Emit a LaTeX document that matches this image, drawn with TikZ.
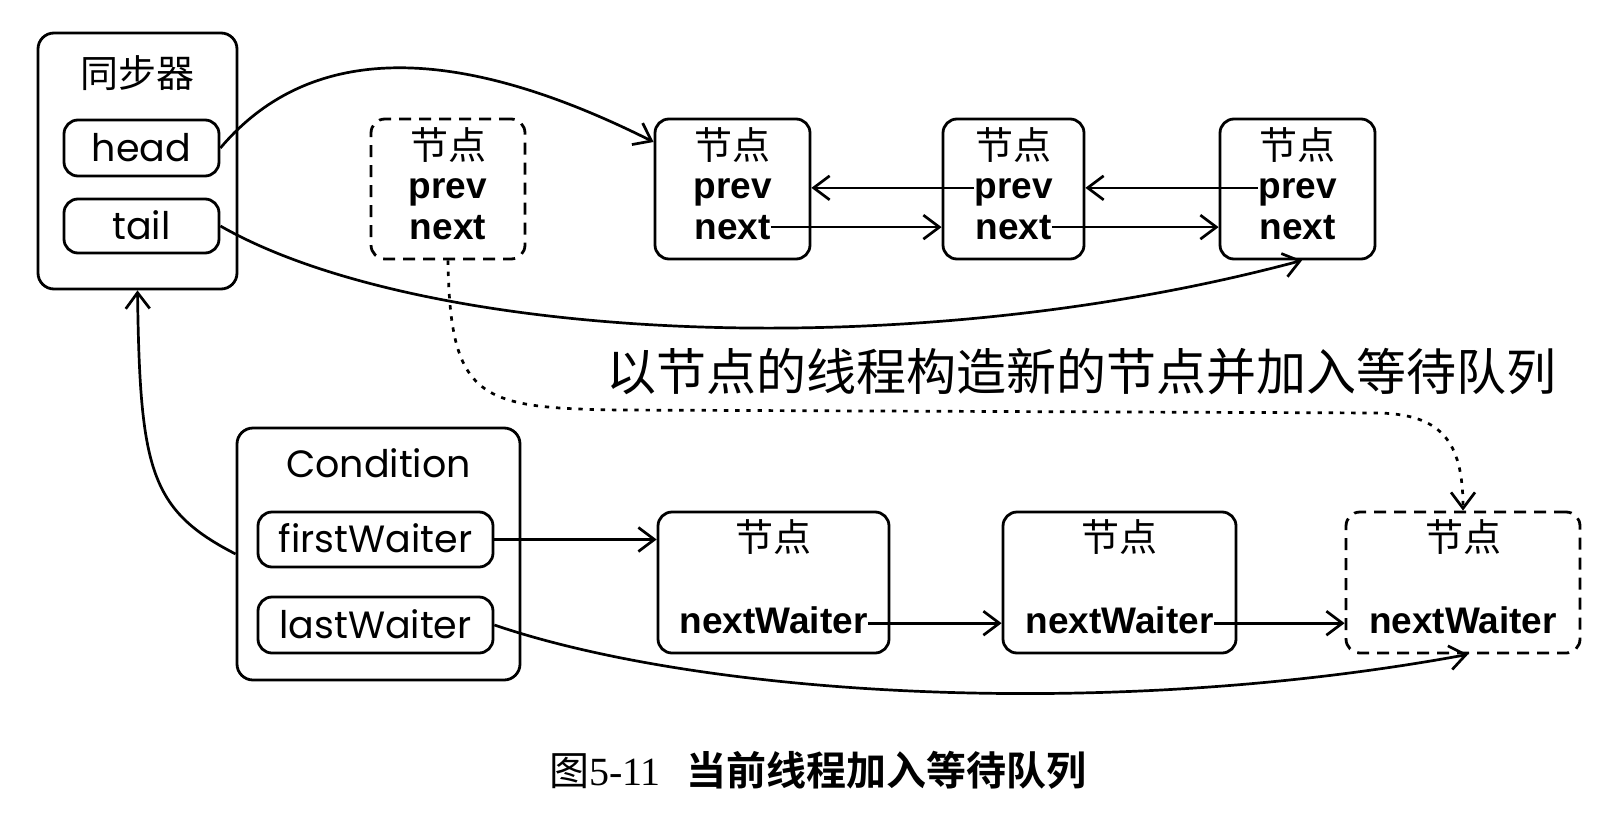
\documentclass[tikz,border=0pt]{standalone}
\usepackage{fontspec}
\setmainfont{Liberation Sans}
\newfontfamily\cjk[BoldFont={Noto Sans CJK SC Bold}]{Noto Sans CJK SC}
\newfontfamily\geo{Poppins}
\newfontfamily\capserif{Liberation Serif}
\usetikzlibrary{arrows.meta}
\begin{document}
\begin{tikzpicture}[x=0.5pt,y=-0.5pt,
  box/.style={draw, line width=1.4pt, rounded corners=7pt, inner sep=0pt},
  dbox/.style={box, dash pattern=on 6pt off 4pt},
  lbl/.style={inner sep=0pt, anchor=base, font=\geo\fontsize{19}{23}\selectfont},
  cn/.style={inner sep=0pt, anchor=base, font=\cjk\fontsize{19}{23}\selectfont},
  bfl/.style={inner sep=0pt, anchor=base, font=\bfseries\fontsize{18.5}{22}\selectfont},
  arr/.style={line width=1.35pt, -{Straight Barb[length=8pt,width=12pt,line width=1.35pt]}},
  dotarr/.style={arr, dash pattern=on 2.2pt off 3.4pt}]
\useasboundingbox (0,0) rectangle (1620,824);

% synchronizer
\node[box, minimum width=99.5pt, minimum height=128pt, rounded corners=8pt] (sync) at (137.5,161) {};
\node[cn] (synct) at (137.5,88) {同步器};
\node[box, minimum width=77.5pt, minimum height=28pt] (head) at (141.5,148) {};
\node[lbl] (headt) at (141.5,161) {head};
\node[box, minimum width=77.5pt, minimum height=27pt] (tail) at (141.5,226) {};
\node[lbl] (tailt) at (141.5,239) {tail};

% new (dashed) node
\node[dbox, minimum width=77pt, minimum height=70pt] (dn) at (448,189) {};
\node[cn] (dnt) at (448,159) {节点};
\node[bfl] (dnp) at (448,198) {prev};
\node[bfl] (dnn) at (448,239) {next};

% sync queue nodes
\node[box, minimum width=77.5pt, minimum height=70pt] (n1) at (732.5,189) {};
\node[cn] (n1t) at (732.5,159) {节点};
\node[bfl] (n1p) at (732.5,198) {prev};
\node[bfl] (n1n) at (732.5,239) {next};
\node[box, minimum width=70.5pt, minimum height=70pt] (n2) at (1013.5,189) {};
\node[cn] (n2t) at (1013.5,159) {节点};
\node[bfl] (n2p) at (1013.5,198) {prev};
\node[bfl] (n2n) at (1013.5,239) {next};
\node[box, minimum width=77.5pt, minimum height=70pt] (n3) at (1297.5,189) {};
\node[cn] (n3t) at (1297.5,159) {节点};
\node[bfl] (n3p) at (1297.5,198) {prev};
\node[bfl] (n3n) at (1297.5,239) {next};

% label
\node[inner sep=0pt, anchor=base, font=\cjk\fontsize{25}{30}\selectfont] (lab) at (1081,390) {以节点的线程构造新的节点并加入等待队列};

% condition
\node[box, minimum width=141.5pt, minimum height=126pt, rounded corners=8pt] (cond) at (378.5,554) {};
\node[lbl] (condt) at (378.5,477) {Condition};
\node[box, minimum width=117.5pt, minimum height=27.5pt] (fw) at (375.5,539.5) {};
\node[lbl] (fwt) at (375.5,552) {firstWaiter};
\node[box, minimum width=117.5pt, minimum height=28pt] (lw) at (375.5,625) {};
\node[lbl] (lwt) at (375.5,638) {lastWaiter};

% wait queue nodes
\node[box, minimum width=115.5pt, minimum height=70.5pt] (w1) at (773.5,582.5) {};
\node[cn] (w1t) at (773.5,551) {节点};
\node[bfl] (w1n) at (773.5,633) {nextWaiter};
\node[box, minimum width=116.5pt, minimum height=70.5pt] (w2) at (1119.5,582.5) {};
\node[cn] (w2t) at (1119.5,551) {节点};
\node[bfl] (w2n) at (1119.5,633) {nextWaiter};
\node[dbox, minimum width=117pt, minimum height=70.5pt] (w3) at (1463,582.5) {};
\node[cn] (w3t) at (1463,551) {节点};
\node[bfl] (w3n) at (1463,633) {nextWaiter};

% caption
\node[inner sep=0pt, anchor=base, font=\fontsize{20}{24}\selectfont] (cap) at (818,785)
  {{\cjk 图}{\capserif 5-11}\hspace{0.65em}{\cjk\bfseries 当前线程加入等待队列}};

% anchor points for connectors
\coordinate (n2ps) at ([yshift=2pt]n2p.west);
\coordinate (n3ps) at ([yshift=2pt]n3p.west);
\coordinate (w1ne) at ([yshift=-1.7pt]w1n.east);
\coordinate (w2ne) at ([yshift=-1.7pt]w2n.east);

% connectors
\draw[arr] (head.east) .. controls (320,30) and (480,55) .. ([yshift=23.5pt]n1.west);
\draw[arr] (tail.east) .. controls (420,340) and (900,368) .. ([xshift=2.25pt]n3.south);
\draw[arr] (n1n.east) -- (n2.west |- n1n.east);
\draw[arr] (n2n.east) -- (n3.west |- n2n.east);
\draw[arr] (n2ps) -- (n1.east |- n2ps);
\draw[arr] (n3ps) -- (n2.east |- n3ps);
\draw[dotarr] (dn.south) .. controls (450,400) and (480,408) .. (620,410) -- (1380,413)
  .. controls (1440,415) and (1463,440) .. (w3.north);
\draw[arr] (cond.west) .. controls (150,510) and (140,470) .. (sync.south);
\draw[arr] (fw.east) -- (w1.west |- fw.east);
\draw[arr] (w1ne) -- (w2.west |- w1ne);
\draw[arr] (w2ne) -- (w3.west |- w2ne);
\draw[arr] (lw.east) .. controls (700,695) and (1100,722) .. ([xshift=2.5pt]w3.south);
\end{tikzpicture}
\end{document}
